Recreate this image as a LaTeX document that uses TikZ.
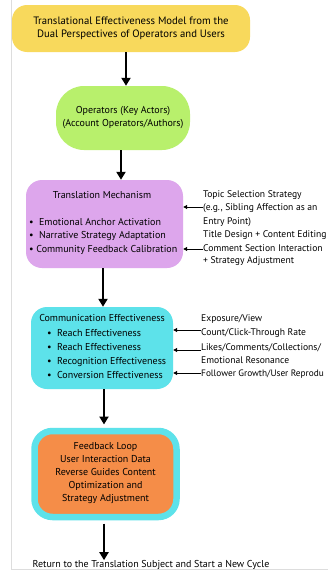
\documentclass[tikz,border=0pt]{standalone}
\usepackage{fontspec}
\setmainfont{PT Sans}
\usetikzlibrary{arrows.meta}
\definecolor{cyellow}{HTML}{F8D95C}
\definecolor{cgreen}{HTML}{B8F06C}
\definecolor{cpurple}{HTML}{DDA6EC}
\definecolor{ccyan}{HTML}{5DE2EA}
\definecolor{corange}{HTML}{F58D48}
\definecolor{cframe}{HTML}{DDDDDD}
\tikzset{
  box/.style={align=center, inner sep=0pt, font=\fontsize{10}{13}\selectfont},
  mainarrow/.style={line width=2.3pt, -{Triangle[length=8pt,width=9pt]}},
  sidearrow/.style={line width=1pt, -{Triangle[length=4pt,width=4pt]}},
  note/.style={anchor=west, inner sep=0pt, font=\fontsize{9.6}{13}\selectfont, align=left},
}
\begin{document}
\begin{tikzpicture}[x=1pt,y=-1pt]
\useasboundingbox[fill=white] (0,0) rectangle (328,573);
\draw[cframe, line width=0.8pt] (11,0) -- (11,569) -- (328,569);
% title
\node[box, fill=cyellow, rounded corners=15pt, minimum width=238pt, minimum height=47pt, font=\fontsize{10.7}{13.5}\selectfont] (title) at (131,28.5)
  {Translational Effectiveness Model from the\\Dual Perspectives of Operators and Users};
% operators
\node[box, fill=cgreen, rounded corners=28pt, minimum width=134pt, minimum height=64pt] (ops) at (123,118)
  {Operators (Key Actors)\\(Account Operators/Authors)};
% translation mechanism
\node[box, fill=cpurple, rounded corners=16pt, minimum width=157pt, minimum height=88pt] (tm) at (104.5,224) {};
\node[box] (tmt) at (102,195) {Translation Mechanism};
\node[box, align=left, anchor=west, font=\fontsize{10}{13.5}\selectfont] (tmb) at (29,236)
  {\textbullet\ \ Emotional Anchor Activation\\\textbullet\ \ Narrative Strategy Adaptation\\\textbullet\ Community Feedback Calibration};
% communication effectiveness
\node[box, fill=ccyan, rounded corners=16pt, minimum width=142pt, minimum height=82pt] (ce) at (102,348) {};
\node[box] (cet) at (102,318) {Communication Effectiveness};
\node[box, align=left, anchor=west, font=\fontsize{10}{14}\selectfont] (ceb) at (47,354)
  {\textbullet\ \ Reach Effectiveness\\\textbullet\ \ Reach Effectiveness\\\textbullet\ \ Recognition Effectiveness\\\textbullet\ \ Conversion Effectiveness};
% feedback loop
\node[box, fill=corange, draw=ccyan, line width=6.5pt, rounded corners=18pt, minimum width=142pt, minimum height=86pt] (fb) at (105.5,474)
  {};
\node[box, font=\fontsize{10}{13}\selectfont] (fbt) at (105.5,473)
  {Feedback Loop\\User Interaction Data\\Reverse Guides Content\\Optimization and\\Strategy Adjustment};
% bottom text
\node[box] (ret) at (151,565) {Return to the Translation Subject and Start a New Cycle};
% notes
\node[note, font=\fontsize{9.6}{13.5}\selectfont] (n1) at (203,215)
  {Topic Selection Strategy\\(e.g., Sibling Affection as an\\Entry Point)\\Title Design + Content Editing};
\node[note, font=\fontsize{9.6}{12}\selectfont] (n2) at (203,255)
  {Comment Section Interaction\\+ Strategy Adjustment};
\node[note, font=\fontsize{9.6}{13.5}\selectfont] (n3) at (201,326) {Exposure/View\\Count/Click-Through Rate};
\node[note, font=\fontsize{9.6}{13.5}\selectfont] (n4) at (201,353.5) {Likes/Comments/Collections/\\Emotional Resonance};
\node[note, font=\fontsize{9.3}{12}\selectfont] (n5) at (201,374) {Follower Growth/User Reprodu};
% main arrows
\draw[mainarrow] (title.south -| 126,0) -- (ops.north -| 126,0);
\draw[mainarrow] (ops.south -| 121,0) -- (tm.north -| 121,0);
\draw[mainarrow] (tm.south -| 103,0) -- (ce.north -| 103,0);
\draw[mainarrow] (ce.south -| 104,0) -- ([yshift=3.25pt]fb.north -| 104,0);
\draw[mainarrow] ([yshift=-3.25pt]fb.south -| 104,0) -- (ret.north -| 104,0);
% side arrows
\draw[sidearrow] (n1.west |- 0,207) -- (tm.east |- 0,207);
\draw[sidearrow] (n2.west |- 0,249) -- (tm.east |- 0,249);
\draw[sidearrow] (n3.west |- 0,330) -- (ce.east |- 0,330);
\draw[sidearrow] (n4.west |- 0,350) -- (ce.east |- 0,350);
\draw[sidearrow] (n5.west |- 0,373) -- (ce.east |- 0,373);
\end{tikzpicture}
\end{document}
